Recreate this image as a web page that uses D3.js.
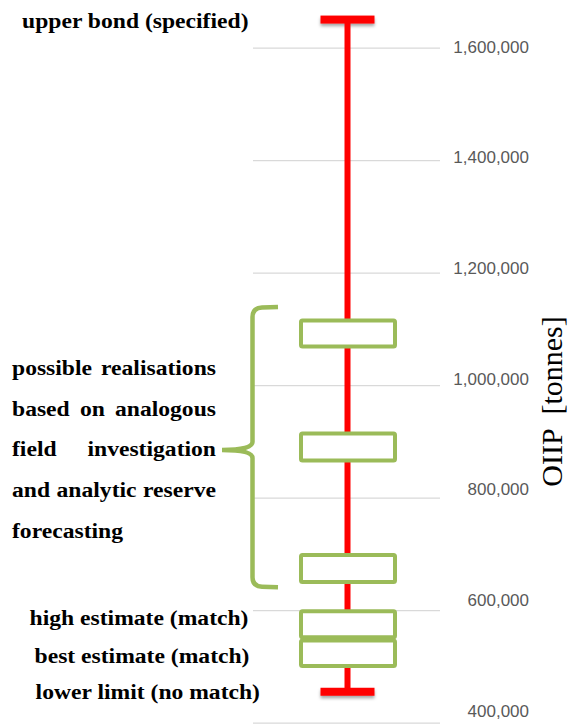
<!DOCTYPE html>
<html>
<head>
<meta charset="utf-8">
<script src="https://cdn.jsdelivr.net/npm/d3@7"></script>
<style>
body { margin: 0; background: #fff; }
svg { display: block; }
</style>
</head>
<body>
<div id="chart"></div>
<script>
// values (tonnes)
const tickValues = [400000, 600000, 800000, 1000000, 1200000, 1400000, 1600000];
const boundValues = [455000, 1650000]; // lower limit, upper bond
const boxNames = ["realisation 1", "realisation 2", "realisation 3", "high estimate", "best estimate"];
const boxLow = [1069000, 866000, 650000, 552000, 501000];
const boxHigh = [1115000, 914000, 698000, 598000, 546000];
const braceValues = [641000, 885000, 1139000]; // bottom, tip, top
const noteLines = [
    ["possible", "realisations"],
    ["based", "on", "analogous"],
    ["field", "investigation"],
    ["and", "analytic", "reserve"],
    ["forecasting"]
];
const markLabels = ["upper bond (specified)", "high estimate (match)", "best estimate (match)", "lower limit (no match)"];
const axisTitle = "OIIP  [tonnes]";

const width = 570, height = 724;
const red = "#ff0000", green = "#9bbb59";
const serif = "'Liberation Serif', 'Times New Roman', serif";
const fs = 20;
const hs = 1.18; // the bold labels are a bit wide in the picture

const svg = d3.select("#chart").append("svg")
    .attr("width", width)
    .attr("height", height);

const y = d3.scaleLinear().domain([400000, 1600000]).range([722.7, 47.7]);
const yLab = d3.scaleLinear().domain([400000, 1600000]).range([710.7, 46.7]);
const cx = 347.5;

// gridlines
svg.append("g")
    .attr("transform", "translate(440,0)")
    .call(d3.axisLeft(y).tickValues(tickValues).tickSize(187).tickFormat(""))
    .call(g => g.select(".domain").remove())
    .call(g => g.selectAll(".tick line").attr("stroke", "#d9d9d9").attr("stroke-width", 1.3));

// tick labels
svg.append("g")
    .attr("transform", "translate(529,0)")
    .call(d3.axisLeft(yLab).tickValues(tickValues).tickSize(0).tickPadding(0).tickFormat(d3.format(",")))
    .call(g => g.select(".domain").remove())
    .call(g => g.selectAll("text")
        .attr("font-family", "'Liberation Sans', Arial, sans-serif")
        .attr("font-size", 17)
        .attr("fill", "#595959"));

// axis title
svg.append("text")
    .attr("transform", "translate(561.5,401.5) rotate(-90)")
    .attr("text-anchor", "middle")
    .attr("font-family", serif)
    .attr("font-size", 30)
    .attr("fill", "#000")
    .style("white-space", "pre")
    .text(axisTitle);

// red range line with caps
svg.append("defs").append("filter")
    .attr("id", "shadow")
    .attr("x", "-20%").attr("y", "-60%")
    .attr("width", "140%").attr("height", "260%")
    .append("feDropShadow")
    .attr("dx", 0).attr("dy", 2.5)
    .attr("stdDeviation", 1.5)
    .attr("flood-color", "#000")
    .attr("flood-opacity", 0.35);

svg.append("g").selectAll("rect")
    .data(boundValues)
    .join("rect")
    .attr("x", cx - 27)
    .attr("width", 54)
    .attr("y", d => y(d) - 4)
    .attr("height", 8)
    .attr("fill", red)
    .attr("filter", "url(#shadow)");

svg.append("line")
    .attr("x1", cx).attr("x2", cx)
    .attr("y1", y(boundValues[0]))
    .attr("y2", y(boundValues[1]))
    .attr("stroke", red)
    .attr("stroke-width", 6);

// boxes
svg.append("g").selectAll("rect")
    .data(boxNames.map((name, i) => ({name, low: boxLow[i], high: boxHigh[i]})))
    .join("rect")
    .attr("x", cx - 46.5)
    .attr("width", 94)
    .attr("y", d => y(d.high))
    .attr("height", d => y(d.low) - y(d.high))
    .attr("rx", 1.5)
    .attr("fill", "#fff")
    .attr("stroke", green)
    .attr("stroke-width", 4);

// curly brace
const bTop = y(braceValues[2]), bTip = y(braceValues[1]), bBot = y(braceValues[0]);
const bx = 252.5;
svg.append("path")
    .attr("d", `M278,${bTop} L262,${bTop + 0.5} Q${bx},${bTop + 1} ${bx},${bTop + 10}`
        + ` V${bTip - 8} Q${bx},${bTip} 222,${bTip} Q${bx},${bTip} ${bx},${bTip + 8}`
        + ` V${bBot - 10} Q${bx},${bBot - 1} 262,${bBot - 0.5} L278,${bBot}`)
    .attr("fill", "none")
    .attr("stroke", green)
    .attr("stroke-width", 4.5)
    .attr("stroke-linecap", "butt");

// text helpers
function stretch(t) {
    const w = t.node().getComputedTextLength() * hs;
    t.attr("textLength", w).attr("lengthAdjust", "spacingAndGlyphs");
    return w;
}
function boldText(g) {
    return g.append("text")
        .attr("font-family", serif)
        .attr("font-weight", "bold")
        .attr("font-size", fs)
        .attr("fill", "#000");
}

// justified note next to the brace
const notes = svg.append("g");
noteLines.forEach((words, i) => {
    const base = bTip + 6.5 + (i - 2) * 40.7;
    const items = words.map(w => {
        const t = boldText(notes).attr("y", base).text(w);
        return {t, w: stretch(t)};
    });
    const total = d3.sum(items, d => d.w);
    const last = i === noteLines.length - 1;
    const gap = (!last && items.length > 1) ? (204 - total) / (items.length - 1) : 0.25 * fs * hs;
    let x = 12;
    items.forEach(d => { d.t.attr("x", x); x += d.w + gap; });
});

// labels for the marks
const labelAnchors = [boundValues[1], (boxLow[3] + boxHigh[3]) / 2, (boxLow[4] + boxHigh[4]) / 2, boundValues[0]];
const labelDy = [8.5, 0.7, 10, 7];
const labelRight = [248.5, 248.5, 249.5, 260];
const labels = svg.append("g");
markLabels.forEach((s, i) => {
    const t = boldText(labels).attr("y", y(labelAnchors[i]) + labelDy[i]).text(s);
    const w = stretch(t);
    t.attr("x", labelRight[i] - w);
});
</script>
</body>
</html>
